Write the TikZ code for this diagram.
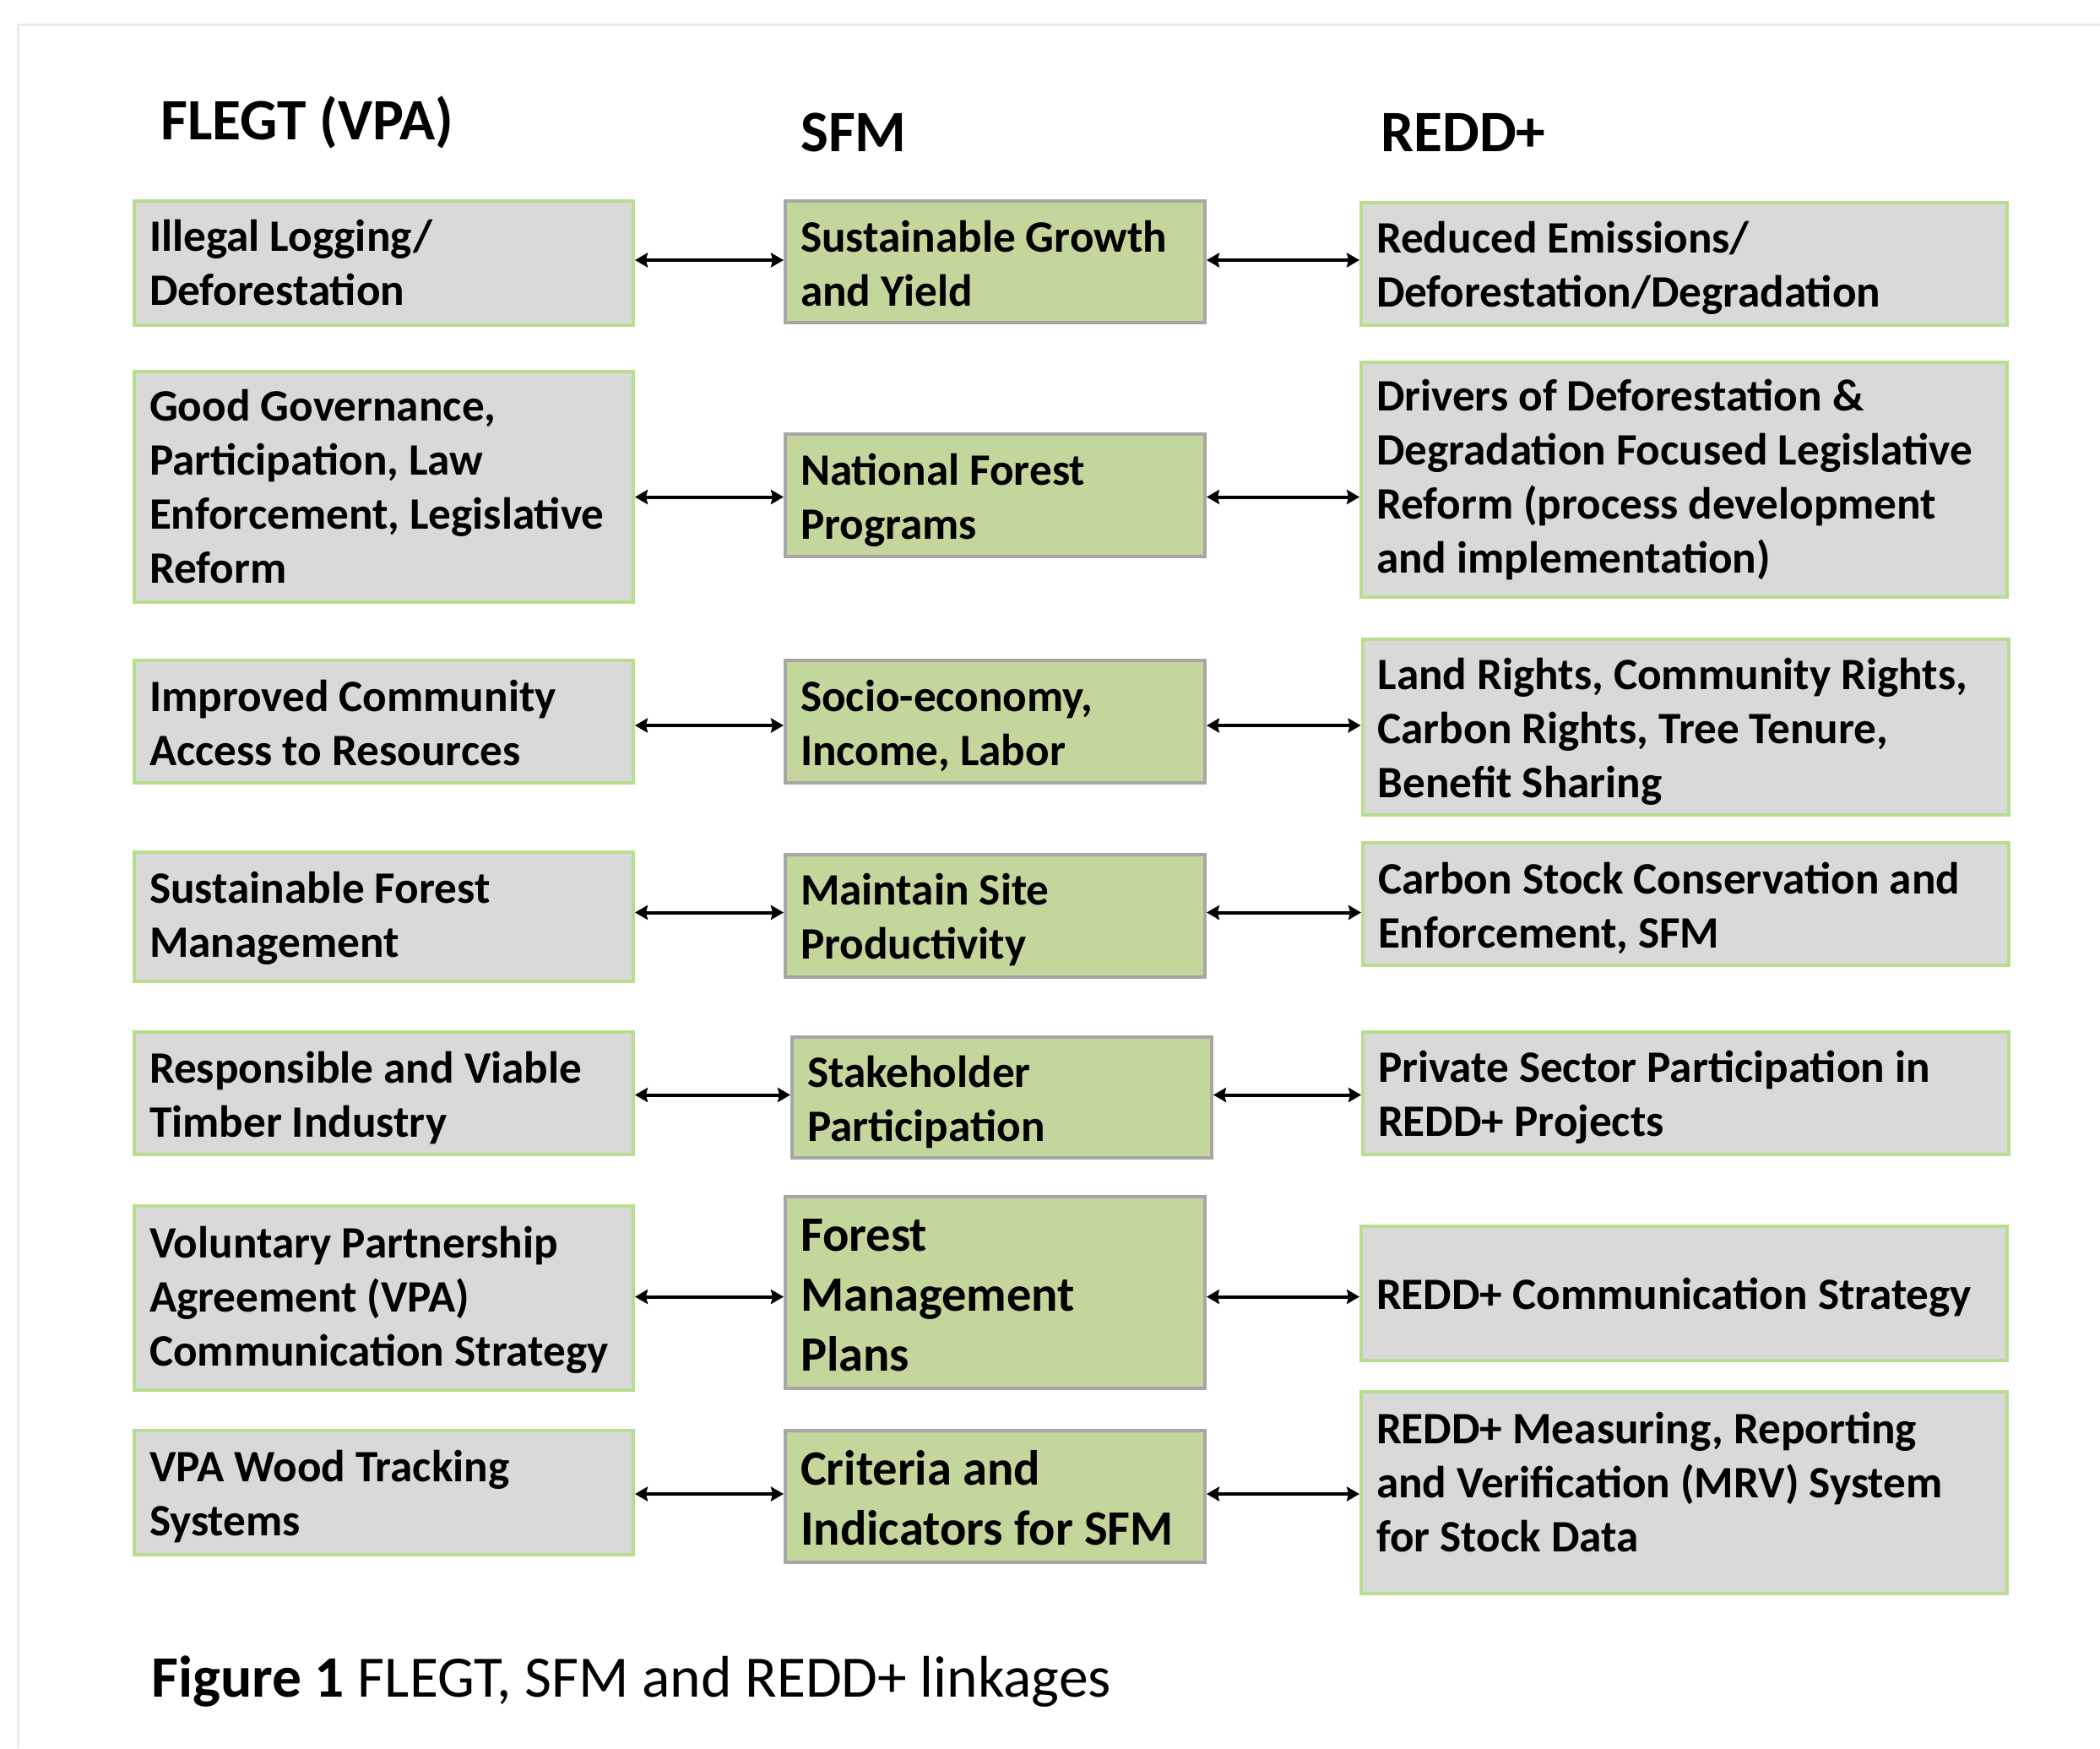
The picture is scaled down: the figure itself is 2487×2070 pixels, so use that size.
\documentclass[tikz,border=0pt]{standalone}
\usepackage{fontspec}
\setmainfont{Carlito}
\usetikzlibrary{arrows.meta}
\definecolor{boxgray}{HTML}{D9D9D9}
\definecolor{boxgreen}{HTML}{C3D69B}
\definecolor{lgreen}{HTML}{B7DE8E}
\definecolor{midgray}{HTML}{A6A6A6}
\definecolor{framegray}{HTML}{EBEBEB}
\newcommand\myboxfont{\fontsize{53.2}{64}\selectfont\bfseries}
\newcommand\mybigfont{\fontsize{58.5}{71}\selectfont\bfseries}
\newcommand\myheadfont{\fontsize{69.5}{80}\selectfont\bfseries}
\newcommand\mycapfont{\fontsize{69.5}{80}\selectfont}
% #1 = width, #2 = downward shift of the text, #3 = text
\newcommand\btxt[3]{\raisebox{-#2}[\height][\depth]{\parbox[c]{#1}{\raggedright #3}}}
\newcommand\Ltxt[2][0pt]{\btxt{555pt}{#1}{#2}}
\newcommand\Mtxt[2][0pt]{\btxt{461pt}{#1}{#2}}
\newcommand\Rtxt[2][0pt]{\btxt{729pt}{#1}{#2}}
\begin{document}
\begin{tikzpicture}[x=1pt,y=-1pt,
  greybox/.style={draw=lgreen, fill=boxgray, line width=4pt, inner xsep=18pt, inner ysep=0pt, font=\myboxfont},
  greenbox/.style={draw=midgray, fill=boxgreen, line width=4pt, inner xsep=18pt, inner ysep=0pt, font=\myboxfont},
  head/.style={anchor=base west, inner sep=0pt, font=\myheadfont},
  arr/.style={{Stealth[length=15pt,width=17pt,inset=2pt]}-{Stealth[length=15pt,width=17pt,inset=2pt]}, line width=4pt}
]
\useasboundingbox (0,0) rectangle (2487,2070);
\fill[white] (0,0) rectangle (2487,2070);
\draw[framegray, line width=3pt] (21,2070) -- (21,29) -- (2487,29);

% headers
\node[head] (hflegt) at (190,165) {FLEGT (VPA)};
\node[head] (hsfm) at (948,179) {SFM};
\node[head] (hredd) at (1635,179) {REDD+};

% left column
\node[greybox, minimum height=147pt] (l1) at (454.5,311.5) {\Ltxt{Illegal Logging/\\Deforestation}};
\node[greybox, minimum height=273pt] (l2) at (454.5,576.5) {\Ltxt{Good Governance,\\Participation, Law\\Enforcement, Legislative\\Reform}};
\node[greybox, minimum height=145pt] (l3) at (454.5,854.5) {\Ltxt[2pt]{Improved Community\\Access to Resources}};
\node[greybox, minimum height=153pt] (l4) at (454.5,1085.5) {\Ltxt[2pt]{Sustainable Forest\\Management}};
\node[greybox, minimum height=145pt] (l5) at (454.5,1294.5) {\Ltxt[5pt]{Responsible and Viable\\Timber Industry}};
\node[greybox, minimum height=218pt] (l6) at (454.5,1537) {\Ltxt[2pt]{Voluntary Partnership\\Agreement (VPA)\\Communication Strategy}};
\node[greybox, minimum height=147pt] (l7) at (454.5,1767.5) {\Ltxt[4pt]{VPA Wood Tracking\\Systems}};

% middle column
\node[greenbox, minimum height=144pt] (m1) at (1178.5,310) {\Mtxt[2pt]{Sustainable Growth\\and Yield}};
\node[greenbox, minimum height=145pt] (m2) at (1178.5,586.5) {\Mtxt[6pt]{National Forest\\Programs}};
\node[greenbox, minimum height=145pt] (m3) at (1178.5,854.5) {\Mtxt[5pt]{Socio-economy,\\Income, Labor}};
\node[greenbox, minimum height=145pt] (m4) at (1178.5,1084.5) {\Mtxt[5pt]{Maintain Site\\Productivity}};
\node[greenbox, minimum height=143pt] (m5) at (1186.5,1299.5) {\Mtxt[5pt]{Stakeholder\\Participation}};
\node[greenbox, minimum height=227pt, font=\mybigfont] (m6) at (1178.5,1530.5) {\Mtxt[3pt]{Forest\\Management\\Plans}};
\node[greenbox, minimum height=156pt, font=\mybigfont] (m7) at (1178.5,1772) {\Mtxt[2pt]{Criteria and\\Indicators for SFM}};

% right column
\node[greybox, minimum height=145pt] (r1) at (1994.5,312.5) {\Rtxt[5pt]{Reduced Emissions/\\Deforestation/Degradation}};
\node[greybox, minimum height=278pt] (r2) at (1994.5,568) {\Rtxt{Drivers of Deforestation \&\\Degradation Focused Legislative\\Reform (process development\\and implementation)}};
\node[greybox, minimum height=208pt] (r3) at (1996,861) {\Rtxt[5pt]{Land Rights, Community Rights,\\Carbon Rights, Tree Tenure,\\Benefit Sharing}};
\node[greybox, minimum height=145pt] (r4) at (1996.5,1070.5) {\Rtxt[5pt]{Carbon Stock Conservation and\\Enforcement, SFM}};
\node[greybox, minimum height=145pt] (r5) at (1996.5,1294.5) {\Rtxt[5pt]{Private Sector Participation in\\REDD+ Projects}};
\node[greybox, minimum height=159pt] (r6) at (1994.5,1531.5) {\Rtxt[5pt]{REDD+ Communication Strategy}};
\node[greybox, minimum height=239pt] (r7) at (1994.5,1767.5) {\Rtxt[-13pt]{REDD+ Measuring, Reporting\\and Verification (MRV) System\\for Stock Data}};

% connectors (row index / vertical offset of the arrow from the SFM box centre)
\foreach \i/\dy in {1/2pt,2/-2pt,3/-4.5pt,4/4pt,5/3pt,6/-5pt,7/3pt}{
  \draw[arr] ([yshift=\dy]l\i.east |- m\i.west) -- ([yshift=\dy]m\i.west);
  \draw[arr] ([yshift=\dy]m\i.east) -- ([yshift=\dy]r\i.west |- m\i.east);
}

% caption
\node[anchor=base west, inner sep=0pt, font=\mycapfont] (cap) at (179,2009) {\textbf{Figure 1} FLEGT, SFM and REDD+ linkages};
\end{tikzpicture}
\end{document}
